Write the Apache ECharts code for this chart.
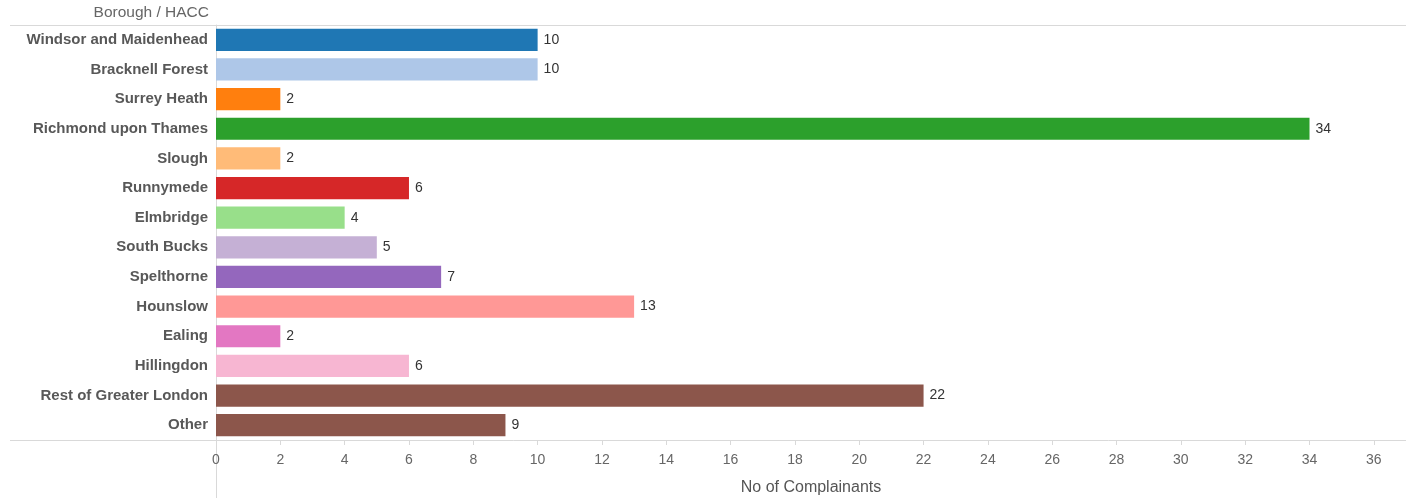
<!DOCTYPE html>
<html><head><meta charset="utf-8">
<script src="https://cdn.jsdelivr.net/npm/echarts@6/dist/echarts.min.js"></script>
<style>html,body{margin:0;padding:0;background:#fff}#c{width:1406px;height:498px}</style>
</head><body><div id="c"></div>
<script>
const categories = ["Windsor and Maidenhead","Bracknell Forest","Surrey Heath","Richmond upon Thames","Slough","Runnymede","Elmbridge","South Bucks","Spelthorne","Hounslow","Ealing","Hillingdon","Rest of Greater London","Other"];
const values = [10,10,2,34,2,6,4,5,7,13,2,6,22,9];
const colors = ["#1f77b4","#aec7e8","#ff7f0e","#2ca02c","#ffbb78","#d62728","#98df8a","#c5b0d5","#9467bd","#ff9896","#e377c2","#f7b6d2","#8c564b","#8c564b"];
const tickValues = [0,2,4,6,8,10,12,14,16,18,20,22,24,26,28,30,32,34,36];

const chart = echarts.init(document.getElementById('c'));
const font = "Liberation Sans, Arial, sans-serif";
chart.setOption({
  animation: false,
  grid: {left: 216, right: 0, top: 25, bottom: 58, outerBoundsMode: 'none', containLabel: false},
  xAxis: {
    type: 'value', min: 0, max: 37,
    name: 'No of Complainants', nameLocation: 'middle', nameGap: 40,
    nameTextStyle: {color: '#555', fontSize: 16, fontFamily: font},
    axisLine: {show: true, lineStyle: {color: '#d9d9d9', width: 1}},
    axisTick: {show: true, customValues: tickValues, length: 5, lineStyle: {color: '#d9d9d9'}},
    axisLabel: {customValues: tickValues, color: '#666', fontSize: 14, fontFamily: font, margin: 13},
    splitLine: {show: false}
  },
  yAxis: {
    type: 'category', data: categories, inverse: true,
    axisLine: {show: true, lineStyle: {color: '#d9d9d9'}},
    axisTick: {show: false},
    axisLabel: {color: '#585858', fontSize: 15, fontWeight: 'bold', fontFamily: font, margin: 8}
  },
  series: [{
    type: 'bar', barCategoryGap: '25%',
    data: values.map((v, i) => ({value: v, itemStyle: {color: colors[i]}})),
    label: {show: true, position: 'right', distance: 6, color: '#333', fontSize: 14, fontFamily: font}
  }],
  graphic: [
    {type: 'line', shape: {x1: 10, y1: 25.5, x2: 1406, y2: 25.5}, style: {stroke: '#d9d9d9', lineWidth: 1}},
    {type: 'line', shape: {x1: 10, y1: 440.5, x2: 216, y2: 440.5}, style: {stroke: '#d9d9d9', lineWidth: 1}},
    {type: 'line', shape: {x1: 216.5, y1: 440, x2: 216.5, y2: 498}, style: {stroke: '#d9d9d9', lineWidth: 1}},
    {type: 'text', right: 1406 - 209, top: 5, style: {text: 'Borough / HACC', fill: '#666', fontSize: 15.5, fontFamily: font, textAlign: 'right'}}
  ]
});
</script></body></html>
